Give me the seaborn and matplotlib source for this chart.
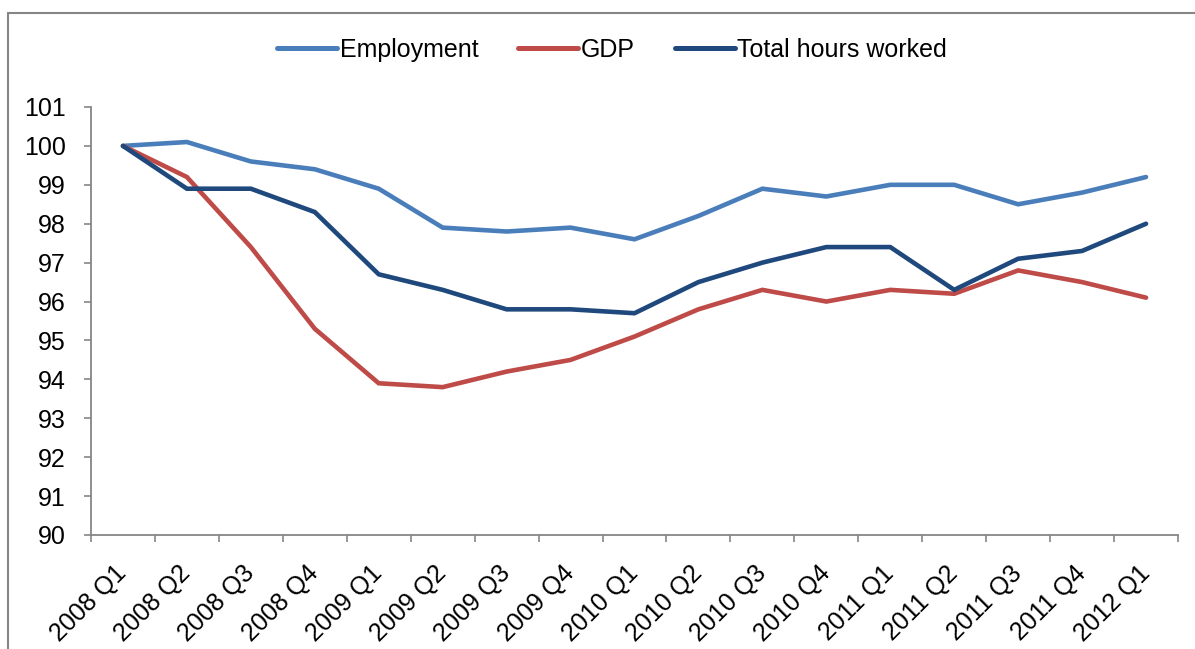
import matplotlib
matplotlib.use("Agg")
import matplotlib.pyplot as plt
import seaborn as sns
import pandas as pd
import numpy as np
from matplotlib.patches import Rectangle

quarters = ["2008 Q1", "2008 Q2", "2008 Q3", "2008 Q4", "2009 Q1", "2009 Q2",
            "2009 Q3", "2009 Q4", "2010 Q1", "2010 Q2", "2010 Q3", "2010 Q4",
            "2011 Q1", "2011 Q2", "2011 Q3", "2011 Q4", "2012 Q1"]
employment = [100.0, 100.1, 99.6, 99.4, 98.9, 97.9, 97.8, 97.9, 97.6, 98.2,
              98.9, 98.7, 99.0, 99.0, 98.5, 98.8, 99.2]
gdp = [100.0, 99.2, 97.4, 95.3, 93.9, 93.8, 94.2, 94.5, 95.1, 95.8,
       96.3, 96.0, 96.3, 96.2, 96.8, 96.5, 96.1]
hours = [100.0, 98.9, 98.9, 98.3, 96.7, 96.3, 95.8, 95.8, 95.7, 96.5,
         97.0, 97.4, 97.4, 96.3, 97.1, 97.3, 98.0]
series_names = ["Employment", "GDP", "Total hours worked"]
colors = ["#4A7EBB", "#BE4B48", "#1F497D"]
y_ticks = list(range(90, 102))

sns.set_theme(style="white")
plt.rcParams['font.family'] = ['Liberation Sans', 'DejaVu Sans']
plt.rcParams['text.color'] = 'black'
plt.rcParams['xtick.color'] = 'black'
plt.rcParams['ytick.color'] = 'black'

df = pd.concat([
    pd.DataFrame({"quarter": quarters, "value": vals, "series": name})
    for name, vals in zip(series_names, [employment, gdp, hours])
], ignore_index=True)
df["x"] = df["quarter"].map({q: i for i, q in enumerate(quarters)})

W, H = 1195, 649
fig = plt.figure(figsize=(W / 100, H / 100), dpi=100)
ax = fig.add_axes([91 / W, 1 - 535 / H, (1178 - 91) / W, (535 - 107) / H])

sns.lineplot(data=df, x="x", y="value", hue="series", hue_order=series_names,
             palette=colors, linewidth=3.3, ax=ax, legend=False,
             solid_capstyle="round", solid_joinstyle="miter")

ax.set_xlim(-0.5, len(quarters) - 0.5)
ax.set_ylim(90, 101)
ax.set_yticks(y_ticks)
ax.set_yticklabels([str(t) for t in y_ticks])
ax.set_xticks(np.arange(len(quarters)))
ax.set_xticklabels(quarters, rotation=45, ha="right", va="center",
                   rotation_mode="anchor")
ax.set_xticks(np.arange(len(quarters) + 1) - 0.5, minor=True)
ax.tick_params(axis="x", which="major", length=0, pad=25, labelsize=18,
               labelcolor="black")
ax.tick_params(axis="x", which="minor", length=5, width=1.2, color="#868686",
               direction="out", bottom=True)
ax.tick_params(axis="y", length=5, width=1.2, color="#868686", direction="out",
               left=True, pad=13, labelsize=18, labelcolor="black")
ax.set_xlabel("")
ax.set_ylabel("")
for s in ["top", "right"]:
    ax.spines[s].set_visible(False)
for s in ["left", "bottom"]:
    ax.spines[s].set_color("#868686")
    ax.spines[s].set_linewidth(1.3)
ax.grid(False)

handles = [plt.Line2D([], [], color=c, linewidth=3.6, solid_capstyle="round")
           for c in colors]
fig.legend(handles, series_names, loc="center", bbox_to_anchor=(612 / W, 1 - 50 / H),
           ncol=3, frameon=False, fontsize=18, handlelength=2.4,
           handletextpad=0.1, columnspacing=1.6, labelcolor="black")

fig.add_artist(Rectangle((8 / W, -0.1), 1.2, 1.1 - 13 / H, transform=fig.transFigure,
                         fill=False, edgecolor="#868686", linewidth=1.5))

fig.savefig("out.png", dpi=100)
